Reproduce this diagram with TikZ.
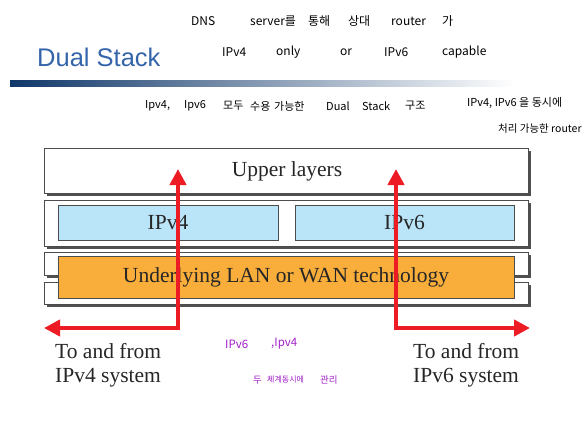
\documentclass[tikz,border=0pt]{standalone}
\usepackage{fontspec}
\setmainfont{Liberation Serif}
\newfontfamily\titlefont{Liberation Sans}
\newfontfamily\kr{Noto Sans CJK KR}
\usetikzlibrary{arrows.meta}
\definecolor{titleblue}{RGB}{52,100,170}
\definecolor{navy}{RGB}{15,55,105}
\definecolor{lblue}{RGB}{186,228,248}
\definecolor{orng}{RGB}{249,173,58}
\definecolor{redarr}{RGB}{237,28,36}
\definecolor{shadowgray}{RGB}{80,80,80}
\definecolor{purp}{RGB}{160,30,200}
\tikzset{
  layerbox/.style={draw=black!70, line width=0.8pt, fill=white},
  shadowbox/.style={fill=shadowgray, draw=none},
  ipbox/.style={draw=black!70, line width=0.8pt, fill=lblue},
  lanbox/.style={draw=black!70, line width=0.8pt, fill=orng},
  boxtext/.style={font=\fontsize{21.5}{24}\selectfont, text=black!85},
  systext/.style={font=\fontsize{21.5}{24.5}\selectfont, text=black!85, align=left, anchor=north west},
  note/.style={font=\kr\fontsize{12}{14}\selectfont, anchor=west, inner sep=0pt},
  snote/.style={font=\kr\fontsize{11}{13}\selectfont, anchor=west, inner sep=0pt},
  pnote/.style={font=\kr\fontsize{11.5}{13}\selectfont, anchor=west, text=purp, inner sep=0pt},
  redarrow/.style={draw=redarr, line width=4pt, {Triangle[length=16pt,width=16pt]}-{Triangle[length=16pt,width=16pt]}}
}
\begin{document}
\begin{tikzpicture}[x=1pt,y=-1pt]
\useasboundingbox (0,0) rectangle (588,431);
% title
\node[font=\titlefont\fontsize{25.5}{28}\selectfont, text=titleblue, anchor=west, inner sep=0pt] (title) at (37,57) {Dual Stack};
\shade[left color=navy, right color=white] (10,80) rectangle (515,86);
% notes top, line 1
\node[note] (a1) at (191,21) {DNS};
\node[note] (a2) at (250,21) {server를};
\node[note] (a3) at (308,21) {통해};
\node[note] (a4) at (348,21) {상대};
\node[note] (a5) at (391,21) {router};
\node[note] (a6) at (442,21) {가};
% line 2
\node[note] (b1) at (222,52) {IPv4};
\node[note] (b2) at (276,52) {only};
\node[note] (b3) at (340,52) {or};
\node[note] (b4) at (384,52) {IPv6};
\node[note] (b5) at (442,52) {capable};
% line 3
\node[snote] (c1) at (145,106) {Ipv4,};
\node[snote] (c2) at (184,106) {Ipv6};
\node[snote] (c3) at (223,106) {모두};
\node[snote] (c4) at (250,106) {수용};
\node[snote] (c5) at (274,106) {가능한};
\node[snote] (c6) at (326,106) {Dual};
\node[snote] (c7) at (362,106) {Stack};
\node[snote] (c8) at (405,106) {구조};
\node[snote] (d1) at (467,103) {IPv4, IPv6 을 동시에};
\node[snote, font=\kr\fontsize{10.5}{12}\selectfont] (d2) at (498,129) {처리 가능한 router};
% shadows
\fill[shadowbox] (47,151) rectangle (531,196);
\fill[shadowbox] (47,203) rectangle (531,249);
\fill[shadowbox] (47,255) rectangle (531,278);
\fill[shadowbox] (47,285) rectangle (531,307);
% layers
\draw[layerbox] (44,148) rectangle (528,193);
\node[boxtext] (upper) at (287,171) {Upper layers};
\draw[layerbox] (44,200) rectangle (528,246);
\draw[layerbox] (44,252) rectangle (528,275);
\draw[layerbox] (44,282) rectangle (528,304);
\node[ipbox, minimum width=220pt, minimum height=35pt, inner sep=0pt, boxtext] (ipv4) at (168,222.5) {IPv4};
\node[ipbox, minimum width=219pt, minimum height=35pt, inner sep=0pt, boxtext] (ipv6) at (404.5,222.5) {IPv6};
\node[lanbox, minimum width=456pt, minimum height=42pt, inner sep=0pt, boxtext] (lan) at (286,277) {Underlying LAN or WAN technology};
% arrows
\coordinate (l1) at (44,328);
\coordinate (l2) at (178,328);
\coordinate (l3) at (178,169);
\coordinate (r1) at (530,328);
\coordinate (r2) at (396,328);
\coordinate (r3) at (396,169);
\draw[redarrow] (l1) -- (l2) -- (l3);
\draw[redarrow] (r3) -- (r2) -- (r1);
% bottom text
\node[systext, inner sep=0pt] (s4) at (55,343) {To and from\\IPv4 system};
\node[systext, inner sep=0pt] (s6) at (413,343) {To and from\\IPv6 system};
\node[pnote] (p1) at (225,344) {IPv6};
\node[pnote] (p2) at (271,344) {,Ipv4};
\node[pnote, font=\kr\fontsize{9.5}{11}\selectfont] (p3) at (253,380) {두};
\node[pnote, font=\kr\fontsize{8}{10}\selectfont] (p4) at (267,380) {체계동시에};
\node[pnote, font=\kr\fontsize{9.5}{11}\selectfont] (p5) at (320,380) {관리};
\end{tikzpicture}
\end{document}
